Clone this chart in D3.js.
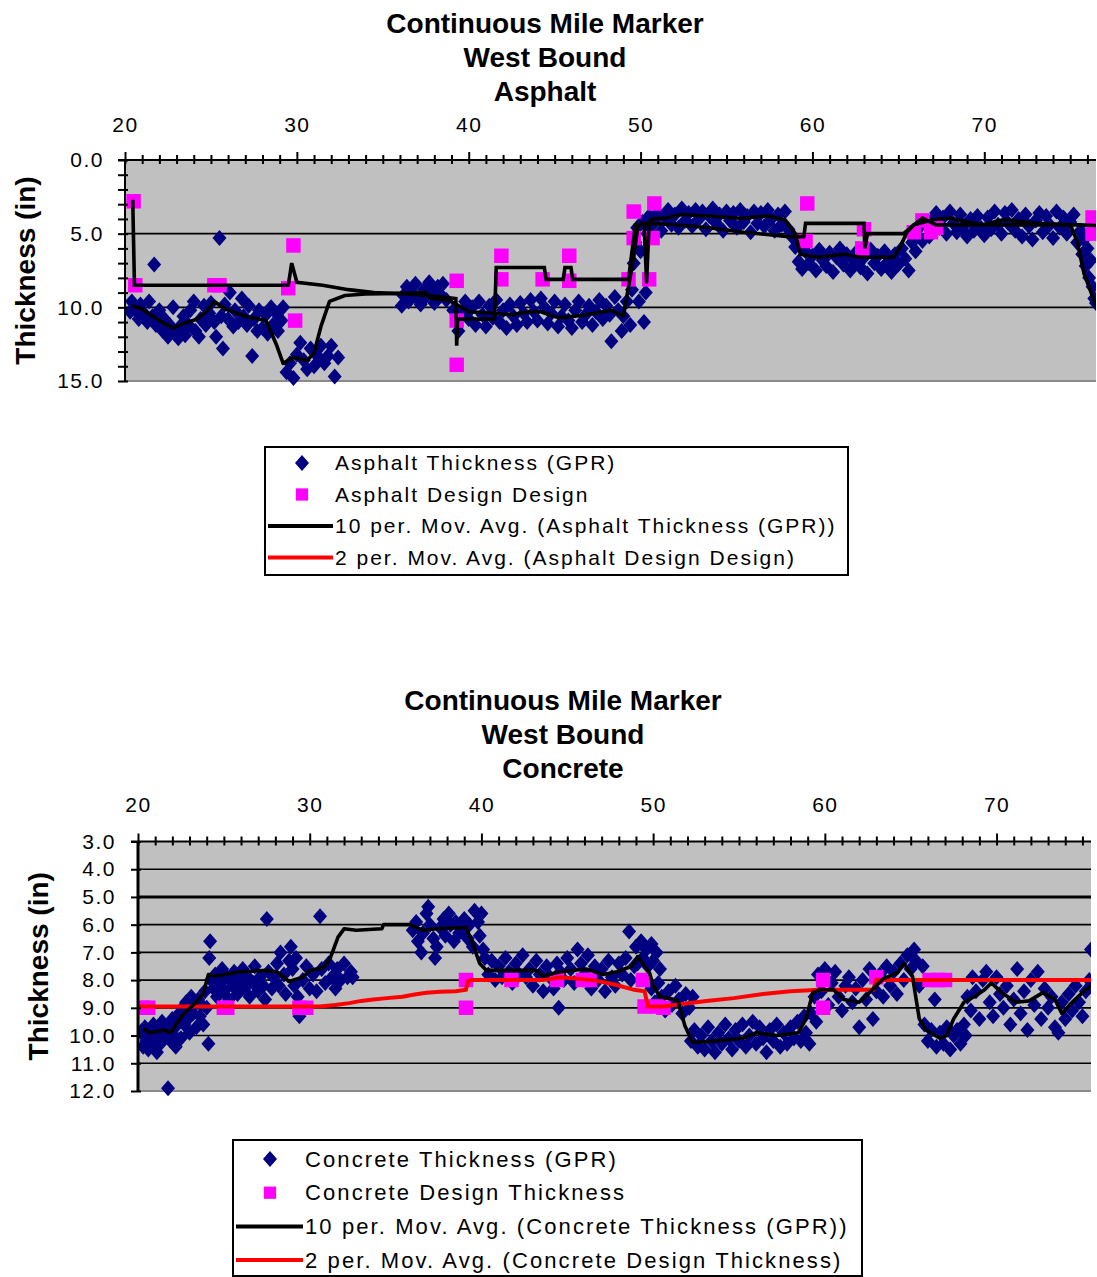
<!DOCTYPE html>
<html>
<head>
<meta charset="utf-8">
<script src="https://cdn.jsdelivr.net/npm/d3@7"></script>
<style>
  body { margin: 0; background: #fff; }
  svg { display: block; }
</style>
</head>
<body>
<script>
// ---- data (mile, thickness in inches) ----
const mileLabels = [20, 30, 40, 50, 60, 70];
const asphaltTicks = [0, 5, 10, 15];
const concreteTicks = [3, 4, 5, 6, 7, 8, 9, 10, 11, 12];

const asphaltGpr = [
  [20.3,10.3],[20.4,9.6],[20.6,10.2],[20.8,10.8],[20.9,9.8],[21.1,10.4],[21.3,11.0],[21.4,9.6],[21.6,10.6],[21.7,7.1],
  [21.8,11.2],[22.0,10.2],[22.2,11.6],[22.3,10.8],[22.5,12.0],[22.6,11.2],[22.8,10.0],[22.9,11.8],[23.1,12.1],[23.2,11.3],
  [23.4,10.6],[23.5,11.9],[23.7,11.2],[23.8,10.2],[24.0,9.6],[24.1,11.6],[24.3,12.0],[24.4,10.8],[24.6,9.9],[24.7,11.2],
  [24.9,10.4],[25.0,9.7],[25.2,11.0],[25.3,12.0],[25.5,5.3],[25.6,10.6],[25.7,12.8],[25.8,9.8],[26.0,10.8],[26.1,9.0],
  [26.3,11.3],[26.4,10.2],[26.6,11.0],[26.8,9.4],[26.9,10.6],[27.1,11.2],[27.2,9.9],[27.4,13.3],[27.5,10.8],[27.7,11.6],
  [27.8,10.2],[28.0,11.4],[28.2,10.5],[28.3,11.8],[28.5,10.0],[28.6,11.2],[28.8,10.4],[28.9,11.6],[29.1,10.9],[29.2,10.0],
  [29.4,14.4],[29.6,13.8],[29.8,14.8],[30.0,13.2],[30.2,12.4],[30.4,13.6],[30.6,14.2],[30.8,12.8],[31.0,14.0],[31.2,13.3],
  [31.4,12.6],[31.6,13.8],[31.8,13.3],[32.0,12.6],[32.2,14.7],[32.4,13.4],
  [36.1,9.9],[36.2,9.2],[36.4,8.6],[36.5,9.6],[36.7,9.0],[36.9,8.4],[37.0,9.4],[37.2,9.8],[37.4,8.8],[37.5,9.3],
  [37.7,8.3],[37.9,9.0],[38.0,9.7],[38.2,8.6],[38.4,9.2],[38.5,8.4],[38.7,9.5],
  [39.1,10.2],[39.4,11.6],[39.6,10.3],[39.8,9.6],[40.0,10.8],[40.2,10.0],[40.4,11.2],[40.6,9.6],[40.8,10.5],[41.0,11.3],
  [41.2,9.9],[41.4,10.7],[41.6,9.5],[41.8,11.0],[42.0,10.2],[42.2,11.4],[42.4,9.8],[42.6,10.6],[42.8,11.2],[43.0,9.7],
  [43.2,10.4],[43.4,11.0],[43.6,9.5],[43.8,10.3],[44.0,10.9],[44.2,9.4],[44.4,10.0],[44.6,11.1],[44.8,10.4],[45.0,9.6],
  [45.2,11.3],[45.4,10.6],[45.6,9.8],[45.8,10.9],[46.0,11.4],[46.2,10.2],[46.4,9.6],[46.6,11.0],[46.8,10.5],[47.0,9.9],
  [47.2,11.2],[47.4,10.3],[47.6,9.5],[47.8,10.8],[48.0,9.9],[48.2,10.5],[48.3,12.3],[48.5,9.3],[48.7,10.2],[48.9,11.6],
  [49.0,10.6],[49.2,9.6],
  [49.4,11.2],[49.5,8.8],[49.6,7.0],[49.7,5.6],[49.8,4.6],[49.9,9.6],[50.0,6.2],[50.1,4.2],[50.2,11.0],[50.3,9.0],
  [50.4,5.0],[50.5,3.8],[50.6,4.5],
  [50.8,4.2],[51.0,3.6],[51.2,4.8],[51.4,3.9],[51.6,3.4],[51.8,4.4],[52.0,3.7],[52.2,4.6],[52.4,3.3],[52.6,4.1],
  [52.8,3.6],[53.0,4.5],[53.2,3.4],[53.4,4.0],[53.6,3.5],[53.8,4.7],[54.0,3.8],[54.2,3.3],[54.4,4.3],[54.6,3.7],
  [54.8,4.8],[55.0,3.5],[55.2,4.1],[55.4,3.6],[55.6,4.6],[55.8,3.4],[56.0,4.2],[56.2,3.8],[56.4,4.9],[56.6,3.5],
  [56.8,4.3],[57.0,3.6],[57.2,4.5],[57.4,3.4],[57.6,4.0],[57.8,4.8],[58.0,3.7],[58.2,4.4],[58.4,3.5],[58.6,4.7],
  [58.8,5.2],[59.0,5.9],
  [59.2,6.9],[59.4,7.4],[59.6,6.2],[59.8,7.0],[60.0,6.5],[60.2,7.5],[60.4,6.1],[60.6,6.8],[60.8,7.2],[61.0,6.3],
  [61.2,7.6],[61.4,6.6],[61.6,6.0],[61.8,7.1],[62.0,6.4],[62.2,7.5],[62.4,6.8],[62.6,6.2],[62.8,7.3],[63.0,6.6],
  [63.2,7.7],[63.4,6.1],[63.6,7.0],[63.8,6.5],[64.0,7.4],[64.2,6.2],[64.4,6.9],[64.6,7.6],[64.8,6.4],[65.0,7.1],
  [65.2,6.0],[65.4,6.7],[65.6,7.5],[65.8,5.6],
  [65.9,5.0],[66.0,6.2],[66.2,4.6],[66.4,5.5],[66.6,4.2],[66.8,5.2],
  [67.0,4.0],[67.2,3.6],[67.4,4.6],[67.6,3.9],[67.8,5.0],[68.0,3.5],[68.2,4.3],[68.4,4.9],[68.6,3.7],[68.8,4.5],
  [69.0,5.2],[69.2,4.0],[69.4,4.8],[69.6,3.8],[69.8,4.6],[70.0,5.1],[70.2,3.9],[70.4,4.7],[70.6,3.5],[70.8,4.4],
  [71.0,5.0],[71.2,3.6],[71.4,4.3],[71.6,3.4],[71.8,4.8],[72.0,4.0],[72.2,5.2],[72.4,3.7],[72.6,4.5],[72.8,5.4],
  [73.0,4.1],[73.2,3.6],[73.4,4.9],[73.6,3.8],[73.8,4.4],[74.0,5.3],[74.2,3.5],[74.4,4.6],[74.6,3.9],[74.8,5.0],
  [75.0,4.2],[75.2,3.7],
  [75.4,5.6],[75.6,4.8],[75.7,6.4],[75.8,5.4],[75.9,7.2],[76.0,6.0],[76.1,8.0],[76.2,6.8],[76.3,8.6],[76.4,9.4],[76.5,9.7]
];

const asphaltDesign = [
  [20.5,2.8],[20.6,8.5],[25.2,8.5],[25.5,8.5],[29.5,8.7],[29.8,5.8],[29.9,10.9],[39.3,8.2],[39.3,10.9],[39.3,13.9],
  [41.9,6.5],[41.9,8.1],[44.3,8.1],[45.85,6.5],[45.85,8.2],[49.3,8.1],[49.6,3.5],[49.6,5.3],[50.5,8.1],[50.7,5.3],
  [50.8,2.95],[59.7,2.95],[59.6,5.5],[63.0,4.7],[62.9,6.0],[65.9,4.9],[66.4,4.1],[66.9,4.9],[67.2,4.6],[76.3,3.9],[76.3,5.0]
];

const asphaltGprAvg = [
  [20.4,9.9],[21.0,10.1],[21.6,10.6],[22.3,11.1],[22.8,11.4],[23.4,11.1],[24.2,10.8],[24.8,10.2],[25.2,9.6],[25.8,10.1],
  [27.0,10.6],[28.2,10.9],[28.8,12.5],[29.2,13.8],[29.8,13.4],[30.6,13.6],[31.0,13.1],[31.4,11.3],[31.9,9.6],[32.8,9.2],
  [34.0,9.1],[36.0,9.05],[37.5,9.0],[37.8,9.4],[38.8,9.5],[39.6,10.0],[40.0,10.3],[41.5,10.4],[42.5,10.5],[43.5,10.3],
  [44.2,10.3],[45.2,10.7],[46.6,10.55],[48.3,10.2],[49.0,10.6],[49.3,8.6],[49.6,6.6],[49.85,4.4],[50.2,4.3],[50.35,8.3],
  [50.5,4.2],[50.7,4.0],[51.4,3.95],[52.4,3.7],[53.9,3.8],[55.8,3.95],[57.4,3.8],[58.4,4.05],[59.0,5.0],[59.3,6.4],
  [60.3,6.6],[61.9,6.4],[62.8,6.6],[64.7,6.6],[65.1,5.9],[65.5,4.9],[65.9,4.4],[67.0,4.05],[68.0,3.95],[69.9,4.4],
  [71.1,4.05],[73.2,4.3],[75.0,4.4],[75.4,5.5],[75.8,7.7],[76.5,9.9]
];

const asphaltDesignAvg = [
  [20.45,2.7],[20.55,8.5],[29.5,8.5],[29.7,7.0],[30.0,8.3],[31.5,8.5],[33.0,8.8],[34.5,9.0],[36.5,9.1],[37.5,9.2],
  [38.5,9.3],[39.25,9.4],[39.3,12.6],[39.35,10.8],[41.5,10.8],[41.6,7.3],[44.4,7.3],[44.5,8.1],[45.5,8.1],[45.6,7.3],
  [45.95,7.3],[46.05,8.1],[49.3,8.1],[49.5,6.2],[49.7,4.4],[50.6,4.3],[52.0,4.4],[54.0,4.6],[56.0,4.9],[58.6,5.2],
  [59.5,5.2],[59.6,4.3],[63.0,4.3],[63.05,6.0],[63.2,5.0],[65.3,5.0],[65.8,4.5],[66.4,3.95],[67.2,4.4],[75.5,4.4],[76.5,4.45]
];

const concreteGpr = [
  [20.2,9.9],[20.3,10.4],[20.4,9.7],[20.5,10.2],[20.6,10.5],[20.7,9.9],[20.8,10.3],[20.9,9.6],[21.0,10.1],[21.1,10.6],
  [21.2,9.8],[21.3,10.3],[21.4,9.5],[21.5,10.0],[21.7,9.7],[21.75,11.9],[21.9,10.2],[22.0,9.4],[22.1,10.0],[22.2,10.4],
  [22.3,9.6],[22.4,9.2],[22.5,10.1],[22.6,9.0],[22.7,9.6],[22.8,8.8],[22.9,9.4],[23.0,9.9],[23.1,8.6],[23.2,9.2],
  [23.3,8.9],[23.4,9.7],[23.5,8.7],[23.6,9.3],[23.7,8.9],[23.8,9.6],[23.9,8.4],[24.0,9.0],[24.1,10.3],[24.15,7.2],
  [24.2,6.6],[24.25,8.0],
  [24.4,8.3],[24.5,7.8],[24.6,8.6],[24.8,8.1],[24.9,7.6],[25.0,8.4],[25.2,7.9],[25.3,8.7],[25.5,8.2],[25.6,7.7],
  [25.8,8.5],[25.9,8.0],[26.1,7.6],[26.2,8.3],[26.4,7.9],[26.5,8.6],[26.7,8.1],[26.8,7.5],[27.0,8.4],[27.1,7.9],
  [27.3,8.2],[27.4,8.7],[27.5,5.8],[27.6,7.7],[27.8,8.3],[27.9,7.9],
  [28.1,7.4],[28.2,8.2],[28.3,7.0],[28.5,7.8],[28.6,8.5],[28.8,7.3],[28.9,6.8],[29.0,7.6],[29.1,8.2],[29.2,7.2],
  [29.3,8.6],[29.4,9.3],
  [29.6,8.0],[29.8,7.5],[30.0,8.3],[30.2,7.8],[30.4,8.4],[30.6,5.7],[30.7,7.6],[30.9,8.1],[31.1,7.4],[31.3,7.9],
  [31.5,8.3],[31.6,7.6],[31.8,8.0],[32.0,7.4],[32.2,7.9],[32.4,7.7],[32.5,7.9],
  [36.0,6.2],[36.2,5.9],[36.3,6.6],[36.5,7.0],[36.6,6.3],[36.8,5.6],[36.9,5.35],[37.0,6.0],[37.2,6.5],[37.3,7.2],
  [37.4,6.8],[37.6,6.1],[37.8,5.8],[37.9,6.4],[38.1,5.6],[38.2,6.0],[38.4,6.6],[38.5,5.9],[38.7,6.3],[38.9,6.2],
  [39.0,5.8],[39.2,6.5],[39.3,6.0],[39.5,6.8],[39.6,5.5],[39.8,5.9],[39.9,6.4],[40.0,5.6],[40.1,6.9],[40.2,7.2],
  [40.4,7.8],[40.6,7.3],[40.8,8.0],[41.0,7.5],[41.2,7.9],[41.4,7.2],[41.6,7.7],[41.8,8.1],[42.0,7.4],[42.2,7.8],
  [42.4,7.1],[42.6,7.9],[42.8,7.6],[43.0,8.2],[43.2,7.3],[43.4,7.8],[43.6,8.4],[43.8,7.5],[44.0,7.9],[44.2,8.3],
  [44.4,7.4],[44.5,9.0],[44.6,7.7],[44.8,8.0],[45.0,7.2],[45.2,7.6],[45.4,8.1],[45.6,6.9],[45.8,7.4],[46.0,7.8],
  [46.2,7.1],[46.4,8.3],[46.6,7.5],[46.8,8.0],[47.0,7.6],[47.2,8.4],[47.4,7.3],[47.6,7.9],[47.8,8.2],[48.0,7.4],
  [48.2,7.8],[48.4,7.2],[48.6,6.25],[48.7,8.0],[48.9,7.5],
  [49.0,6.8],[49.1,7.4],[49.3,6.6],[49.4,7.2],[49.6,6.9],[49.7,7.5],[49.9,6.7],[50.0,7.3],[50.2,7.0],[50.4,7.6],
  [49.9,8.3],[50.1,8.8],[50.3,8.1],[50.5,8.6],[50.7,9.1],[50.9,8.4],[51.1,8.9],[51.3,8.2],[51.5,8.7],[51.7,9.2],
  [51.9,8.5],[52.1,9.0],[52.3,8.6],
  [52.2,10.2],[52.4,9.8],[52.6,10.4],[52.8,10.0],[53.0,10.5],[53.2,9.7],[53.4,10.2],[53.6,10.6],[53.8,9.9],[54.0,10.3],
  [54.2,9.6],[54.4,10.1],[54.6,10.5],[54.8,9.8],[55.0,10.2],[55.2,9.6],[55.4,10.4],[55.6,10.0],[55.8,9.5],[56.0,10.3],
  [56.2,9.7],[56.4,10.1],[56.6,10.6],[56.8,9.8],[57.0,10.2],[57.2,9.6],[57.4,10.4],[57.6,9.9],[57.8,10.3],[58.0,9.7],
  [58.2,10.1],[58.4,9.5],[58.6,10.2],[58.8,9.3],[58.9,9.9],[59.1,10.3],[59.2,9.2],[59.4,8.6],[59.5,9.5],
  [59.6,7.8],[59.8,8.4],[60.0,7.6],[60.2,8.9],[60.4,8.1],[60.6,7.7],[60.8,8.6],[61.0,9.1],[61.2,8.2],[61.4,7.9],
  [61.6,8.8],[61.8,8.3],[62.0,9.7],[62.2,8.0],[62.4,8.7],[62.6,7.6],[62.8,9.4],[63.0,8.4],[63.2,7.8],[63.4,8.6],
  [63.6,7.5],[63.8,8.2],[64.0,7.7],[64.2,8.5],
  [64.4,7.4],[64.6,8.0],[64.8,7.1],[65.0,7.6],[65.2,6.9],[65.3,7.3],[65.5,8.2],[65.7,7.5],
  [65.8,9.6],[66.0,10.2],[66.2,9.8],[66.4,8.7],[66.5,10.4],[66.7,9.9],[66.9,10.3],[67.1,9.7],[67.3,10.5],[67.5,10.0],
  [67.7,9.8],[67.9,10.3],[68.1,9.6],[68.2,10.0],
  [68.3,8.6],[68.5,9.1],[68.6,7.9],[68.8,8.4],[69.0,9.4],[69.2,8.0],[69.4,7.7],[69.6,8.8],[69.8,9.3],[70.0,7.9],
  [70.2,8.5],[70.4,9.0],[70.6,8.2],[70.8,9.6],[71.0,8.7],[71.2,7.6],[71.4,9.2],[71.6,8.4],[71.8,9.8],[72.0,8.0],
  [72.2,8.9],[72.4,7.7],[72.6,9.4],[72.8,8.3],[73.0,9.0],[73.2,8.6],[73.4,9.7],[73.6,9.9],[73.8,8.8],[74.0,9.4],
  [74.2,8.5],[74.4,9.1],[74.6,8.2],[74.8,8.8],[75.0,9.3],[75.2,8.4],[75.4,8.0],[75.5,6.9]
];

const concreteDesign = [
  [20.3,9.0],[20.6,9.0],[25.0,9.0],[25.2,9.0],[29.4,9.0],[29.8,9.0],[39.1,8.0],[39.1,9.0],[41.75,8.0],[44.4,8.0],
  [45.9,8.0],[46.3,8.0],[49.4,8.0],[49.5,8.95],[50.2,8.95],[50.6,9.0],[59.9,8.0],[59.9,9.0],[63.0,7.9],[66.1,8.0],
  [66.6,8.0],[67.0,8.0]
];

const concreteGprAvg = [
  [20.3,9.75],[20.7,9.9],[21.5,9.8],[21.9,9.9],[22.6,9.25],[23.4,8.8],[23.8,8.5],[24.1,7.8],[24.6,7.85],[25.9,7.7],
  [27.5,7.65],[28.1,7.7],[28.8,8.05],[29.6,7.9],[30.0,7.65],[30.8,7.55],[31.2,7.2],[31.65,6.45],[32.0,6.15],[32.7,6.2],
  [34.2,6.15],[34.3,6.0],[35.8,6.0],[36.6,6.2],[37.4,6.15],[39.1,6.1],[39.5,6.7],[39.9,7.4],[40.3,7.65],[43.2,7.65],
  [43.6,7.85],[44.6,7.7],[46.1,7.6],[47.1,7.8],[47.9,7.7],[48.75,7.5],[49.1,7.15],[49.4,7.4],[49.8,7.75],[50.0,8.2],
  [50.4,8.6],[51.2,8.7],[51.45,8.75],[51.85,9.65],[52.3,10.25],[53.5,10.2],[55.2,10.1],[56.0,9.9],[57.2,10.0],[58.45,9.9],
  [58.9,9.4],[59.3,8.45],[59.7,8.35],[60.5,8.35],[61.1,8.7],[62.0,8.8],[62.6,8.45],[63.4,7.95],[64.2,7.75],[64.6,7.4],
  [65.1,7.85],[65.5,9.4],[65.9,9.8],[66.7,10.1],[67.1,10.0],[67.5,9.4],[68.1,8.8],[68.7,8.6],[69.3,8.35],[69.7,8.1],
  [70.3,8.45],[71.1,8.8],[71.9,8.75],[72.7,8.45],[73.4,8.7],[73.8,9.2],[74.4,8.8],[75.0,8.45],[75.5,8.2]
];

const concreteDesignAvg = [
  [20.0,8.95],[30.6,8.95],[31.5,8.9],[32.3,8.83],[33.0,8.75],[33.7,8.7],[34.5,8.65],[35.4,8.6],[36.1,8.52],[36.8,8.46],
  [37.6,8.42],[38.5,8.4],[39.1,8.35],[39.2,8.05],[39.4,8.0],[43.6,8.0],[44.6,7.9],[46.5,8.0],[47.7,8.15],[48.9,8.35],
  [49.5,8.4],[49.7,8.95],[50.6,8.95],[51.8,8.85],[53.1,8.75],[54.7,8.65],[56.4,8.5],[58.0,8.4],[59.7,8.35],[62.8,8.35],
  [63.0,8.0],[75.5,8.0]
];

const asphaltLegend = [
  'Asphalt Thickness (GPR)',
  'Asphalt Design Design',
  '10 per. Mov. Avg. (Asphalt Thickness (GPR))',
  '2 per. Mov. Avg. (Asphalt Design Design)'
];
const concreteLegend = [
  'Concrete Thickness (GPR)',
  'Concrete Design Thickness',
  '10 per. Mov. Avg. (Concrete Thickness (GPR))',
  '2 per. Mov. Avg. (Concrete Design Thickness)'
];

const NAVY = '#000080';
const MAGENTA = '#ff00ff';
const PLOT_BG = '#c0c0c0';
const FONT = "'Liberation Sans', Arial, sans-serif";

// diamond marker, a bit taller than wide like the excel one
const diamondType = {
  draw(ctx) {
    ctx.moveTo(0, -8);
    ctx.lineTo(7, 0);
    ctx.lineTo(0, 8);
    ctx.lineTo(-7, 0);
    ctx.closePath();
  }
};
const diamondPath = d3.symbol(diamondType)();
const squarePath = d3.symbol(d3.symbolSquare, 210)();

const svg = d3.select('body').append('svg')
  .attr('width', 1097)
  .attr('height', 1277);

const drawChart = (cfg) => {
  const x = d3.scaleLinear().domain(cfg.xDomain).range([cfg.left, cfg.right]);
  const y = d3.scaleLinear().domain(cfg.yDomain).range([cfg.top, cfg.bottom]);
  const g = svg.append('g');

  // titles
  g.selectAll('text.title')
    .data(cfg.titles)
    .enter()
    .append('text')
    .attr('class', 'title')
    .attr('x', cfg.titleX)
    .attr('y', (d, i) => cfg.titleY + i * 34)
    .attr('text-anchor', 'middle')
    .attr('font-family', FONT)
    .attr('font-weight', 'bold')
    .attr('font-size', 28)
    .text((d) => d);

  // plot area
  g.append('rect')
    .attr('x', cfg.left)
    .attr('y', cfg.top)
    .attr('width', cfg.right - cfg.left)
    .attr('height', cfg.bottom - cfg.top)
    .attr('fill', PLOT_BG);

  g.append('line')
    .attr('x1', cfg.left).attr('x2', cfg.right)
    .attr('y1', cfg.bottom).attr('y2', cfg.bottom)
    .attr('stroke', '#8a8a8a')
    .attr('stroke-width', 2);

  g.selectAll('line.grid')
    .data(cfg.grid)
    .enter()
    .append('line')
    .attr('class', 'grid')
    .attr('x1', cfg.left).attr('x2', cfg.right)
    .attr('y1', (d) => y(d)).attr('y2', (d) => y(d))
    .attr('stroke', '#000')
    .attr('stroke-width', (d) => (d === cfg.boldGrid ? 3 : 1.6));

  // marks, clipped to the plot
  const clipId = 'clip-' + cfg.name;
  svg.append('clipPath')
    .attr('id', clipId)
    .append('rect')
    .attr('x', cfg.left)
    .attr('y', cfg.top)
    .attr('width', cfg.right - cfg.left)
    .attr('height', cfg.bottom - cfg.top + 8);

  const marks = g.append('g').attr('clip-path', `url(#${clipId})`);

  marks.selectAll('path.gpr')
    .data(cfg.gpr)
    .enter()
    .append('path')
    .attr('class', 'gpr')
    .attr('d', diamondPath)
    .attr('transform', (d) => `translate(${x(d[0])},${y(d[1])})`)
    .attr('fill', NAVY);

  marks.selectAll('path.design')
    .data(cfg.design)
    .enter()
    .append('path')
    .attr('class', 'design')
    .attr('d', squarePath)
    .attr('transform', (d) => `translate(${x(d[0])},${y(d[1])})`)
    .attr('fill', MAGENTA);

  const line = d3.line()
    .x((d) => x(d[0]))
    .y((d) => y(d[1]));

  marks.append('path')
    .datum(cfg.designAvg)
    .attr('d', line)
    .attr('fill', 'none')
    .attr('stroke', cfg.designAvgColor)
    .attr('stroke-width', cfg.designAvgWidth)
    .attr('stroke-linejoin', 'miter');

  marks.append('path')
    .datum(cfg.gprAvg)
    .attr('d', line)
    .attr('fill', 'none')
    .attr('stroke', '#000')
    .attr('stroke-width', 3.6)
    .attr('stroke-linejoin', 'round');

  // top x axis: labels every 10, cross ticks every mile
  const xLab = g.append('g')
    .attr('transform', `translate(0,${cfg.top})`)
    .call(
      d3.axisTop(x)
        .tickValues(mileLabels)
        .tickFormat(d3.format('d'))
        .tickSize(0)
        .tickPadding(cfg.xPad)
    );
  xLab.select('.domain').remove();
  xLab.selectAll('text')
    .attr('font-family', FONT)
    .attr('font-size', 21)
    .attr('letter-spacing', 1.5)
    .attr('fill', '#000');

  const xTick = g.append('g')
    .attr('transform', `translate(0,${cfg.top})`)
    .call(
      d3.axisTop(x)
        .tickValues(d3.range(20, cfg.xDomain[1] + 0.01, 1))
        .tickFormat('')
        .tickSizeOuter(0)
    );
  xTick.select('.domain')
    .attr('d', `M${cfg.left - 7},0H${cfg.right}`)
    .attr('stroke', '#000')
    .attr('stroke-width', 2);
  xTick.selectAll('.tick line')
    .attr('y1', 4)
    .attr('y2', (d) => (d % 10 === 0 ? -8 : -5))
    .attr('stroke', '#000')
    .attr('stroke-width', 2);

  // left y axis
  const yLab = g.append('g')
    .attr('transform', `translate(${cfg.left},0)`)
    .call(
      d3.axisLeft(y)
        .tickValues(cfg.yTicks)
        .tickFormat(d3.format('.1f'))
        .tickSize(0)
        .tickPadding(cfg.yPad)
    );
  yLab.select('.domain').remove();
  yLab.selectAll('text')
    .attr('font-family', FONT)
    .attr('font-size', 21)
    .attr('letter-spacing', 1.5)
    .attr('fill', '#000');

  const yTick = g.append('g')
    .attr('transform', `translate(${cfg.left},0)`)
    .call(
      d3.axisLeft(y)
        .tickValues(d3.range(cfg.yDomain[0], cfg.yDomain[1] + 0.01, 1))
        .tickFormat('')
        .tickSizeOuter(0)
    );
  yTick.select('.domain')
    .attr('d', `M0,${cfg.top}V${cfg.bottom}`)
    .attr('stroke', '#000')
    .attr('stroke-width', cfg.yAxisWidth);
  yTick.selectAll('.tick line')
    .attr('x1', 3)
    .attr('x2', -7)
    .attr('stroke', '#000')
    .attr('stroke-width', 2);

  g.append('text')
    .attr('transform', `translate(${cfg.yTitleX},${(cfg.top + cfg.bottom) / 2}) rotate(-90)`)
    .attr('text-anchor', 'middle')
    .attr('font-family', FONT)
    .attr('font-weight', 'bold')
    .attr('font-size', 28)
    .text('Thickness (in)');

  // legend
  const lg = cfg.legend;
  g.append('rect')
    .attr('x', lg.x)
    .attr('y', lg.y)
    .attr('width', lg.w)
    .attr('height', lg.h)
    .attr('fill', '#fff')
    .attr('stroke', '#000')
    .attr('stroke-width', 2);

  const rows = g.selectAll('g.row')
    .data(cfg.legendLabels)
    .enter()
    .append('g')
    .attr('class', 'row')
    .attr('transform', (d, i) => `translate(${lg.x},${lg.y + lg.first + i * lg.step})`);

  rows.append('text')
    .attr('x', lg.textX)
    .attr('dy', '0.35em')
    .attr('font-family', FONT)
    .attr('font-size', lg.fontSize)
    .attr('letter-spacing', lg.spacing)
    .text((d) => d);

  rows.filter((d, i) => i === 0)
    .append('path')
    .attr('d', diamondPath)
    .attr('transform', `translate(${lg.markX},0)`)
    .attr('fill', NAVY);
  rows.filter((d, i) => i === 1)
    .append('path')
    .attr('d', d3.symbol(d3.symbolSquare, 150)())
    .attr('transform', `translate(${lg.markX},0)`)
    .attr('fill', MAGENTA);
  rows.filter((d, i) => i >= 2)
    .append('line')
    .attr('x1', 3)
    .attr('x2', lg.textX - 2)
    .attr('stroke', (d, i) => (i === 0 ? '#000' : '#ff0000'))
    .attr('stroke-width', 4);
};

drawChart({
  name: 'asphalt',
  titles: ['Continuous Mile Marker', 'West Bound', 'Asphalt'],
  titleX: 545,
  titleY: 33,
  left: 125,
  right: 1096,
  top: 160,
  bottom: 381,
  xDomain: [20, 76.5],
  yDomain: [0, 15],
  yTicks: asphaltTicks,
  grid: [5, 10],
  boldGrid: null,
  xPad: 28,
  yPad: 21,
  yAxisWidth: 2,
  yTitleX: 35,
  gpr: asphaltGpr,
  design: asphaltDesign,
  gprAvg: asphaltGprAvg,
  designAvg: asphaltDesignAvg,
  designAvgColor: '#000',
  designAvgWidth: 3.6,
  legendLabels: asphaltLegend,
  legend: { x: 265, y: 447, w: 583, h: 128, first: 16, step: 31.5, textX: 70, markX: 37, fontSize: 21, spacing: 2 }
});

drawChart({
  name: 'concrete',
  titles: ['Continuous Mile Marker', 'West Bound', 'Concrete'],
  titleX: 563,
  titleY: 710,
  left: 138,
  right: 1091,
  top: 841.5,
  bottom: 1091,
  xDomain: [20, 75.5],
  yDomain: [3, 12],
  yTicks: concreteTicks,
  grid: [4, 5, 6, 7, 8, 9, 10, 11],
  boldGrid: 5,
  xPad: 30,
  yPad: 22,
  yAxisWidth: 3,
  yTitleX: 48,
  gpr: concreteGpr,
  design: concreteDesign,
  gprAvg: concreteGprAvg,
  designAvg: concreteDesignAvg,
  designAvgColor: '#ff0000',
  designAvgWidth: 4,
  legendLabels: concreteLegend,
  legend: { x: 233, y: 1140, w: 629, h: 136, first: 19, step: 33.7, textX: 72, markX: 37, fontSize: 22, spacing: 2.1 }
});
</script>
</body>
</html>
